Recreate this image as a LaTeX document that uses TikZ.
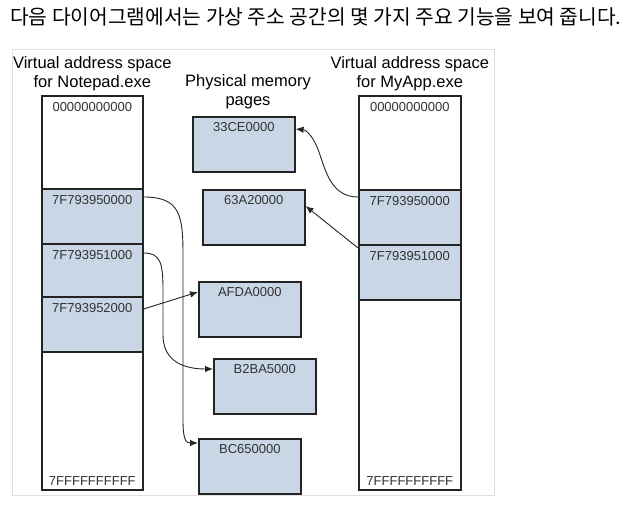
\documentclass[tikz,border=0pt]{standalone}
\usepackage{fontspec}
\setmainfont{Liberation Sans}
\newfontfamily\krfont{Noto Sans CJK KR}
\usetikzlibrary{positioning,arrows.meta}
\definecolor{pagefill}{RGB}{201,214,230}
\definecolor{edge}{RGB}{35,35,35}
\definecolor{framegray}{RGB}{224,224,224}

\begin{document}
\begin{tikzpicture}[>={Latex[length=8pt,width=6.5pt]},x=1pt,y=-1pt,
  addr/.style={font=\fontsize{13}{15}\selectfont,text=black!80},
  vas/.style={draw=edge,line width=1.6pt,fill=white,anchor=north west,inner sep=0,minimum width=101pt,text height=16pt,text depth=378pt,addr},
  vrow/.style={draw=edge,line width=1.6pt,fill=pagefill,anchor=north west,inner sep=0,minimum width=101pt,text height=16pt,text depth=39pt,addr},
  page/.style={vrow,minimum width=102pt,text height=15pt,text depth=40pt},
  title/.style={align=center,inner sep=0,font=\fontsize{16.5}{19}\selectfont},
  map/.style={->,draw=black!85,line width=0.9pt}]
\useasboundingbox (0,0) rectangle (630,505);

\node (head) at (10,17)[anchor=west,inner sep=0,font=\krfont\fontsize{20.3}{24}\selectfont]{다음 다이어그램에서는 가상 주소 공간의 몇 가지 주요 기능을 보여 줍니다.};
\draw[framegray,line width=1pt] (12,50) rectangle (494,495);

% Notepad.exe
\node (nvas) at (41,95)[vas]{00000000000};
\node (n1) at (41,188)[vrow]{7F793950000};
\node (n2) at (41,243)[vrow]{7F793951000};
\node (n3) at (41,296)[vrow]{7F793952000};
\node (nend)[addr,inner sep=0,above=5pt of nvas.south]{7FFFFFFFFFF};
\node (ntitle)[title,above=3.5pt of nvas]{Virtual address space\\for Notepad.exe};

% MyApp.exe
\node (mvas) at (358,95)[vas,minimum width=102pt]{00000000000};
\node (m1) at (358,189)[vrow,minimum width=102pt]{7F793950000};
\node (m2) at (358,244)[vrow,minimum width=102pt]{7F793951000};
\node (mend)[addr,inner sep=0,above=5pt of mvas.south]{7FFFFFFFFFF};
\node (mtitle)[title,above=3.5pt of mvas]{Virtual address space\\for MyApp.exe};

% physical pages
\node (ptitle) at (248,92)[title]{Physical memory\\pages};
\node (p1) at (192,116)[page]{33CE0000};
\node (p2) at (202,189)[page]{63A20000};
\node (p3) at (198,281)[page]{AFDA0000};
\node (p4) at (213,358)[page]{B2BA5000};
\node (p5) at (198,438)[page]{BC650000};

\draw[map] ([yshift=-9pt]n1.north east) .. controls (180,197) and (183,215) .. (183,255) -- (183,420) .. controls (183,440) and (186,443) .. ([yshift=-5pt]p5.north west);
\draw[map] ([yshift=-10pt]n2.north east) .. controls (160,253) and (163,262) .. (163,290) -- (163,335) .. controls (163,362) and (185,369) .. ([yshift=-11pt]p4.north west);
\draw[map] ([yshift=-13pt]n3.north east) -- ([yshift=-11pt]p3.north west);
\draw[map] ([yshift=-8pt]m1.north west) .. controls (332,197) and (326,172) .. (320,155) .. controls (314,136) and (306,130) .. ([yshift=-13pt]p1.north east);
\draw[map] ([yshift=-4pt]m2.north west) -- ([yshift=-17pt]p2.north east);
\end{tikzpicture}
\end{document}
